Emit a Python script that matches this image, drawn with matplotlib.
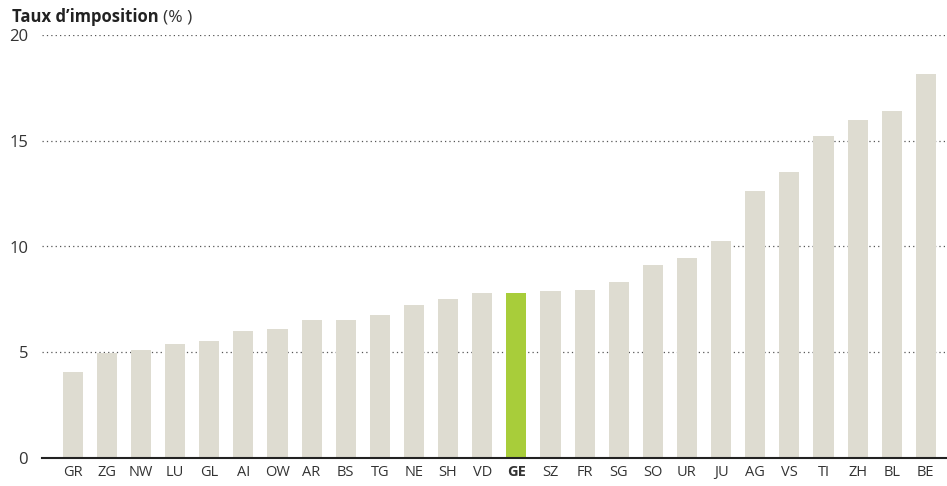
import matplotlib.pyplot as plt

cantons = ['GR', 'ZG', 'NW', 'LU', 'GL', 'AI', 'OW', 'AR', 'BS', 'TG', 'NE', 'SH', 'VD',
           'GE', 'SZ', 'FR', 'SG', 'SO', 'UR', 'JU', 'AG', 'VS', 'TI', 'ZH', 'BL', 'BE']
taux = [4.07, 4.98, 5.1, 5.4, 5.54, 6.0, 6.1, 6.54, 6.54, 6.77, 7.24, 7.52, 7.8,
        7.8, 7.9, 7.95, 8.33, 9.13, 9.46, 10.25, 12.63, 13.52, 15.22, 15.98, 16.4, 18.15]
yticks = [0, 5, 10, 15, 20]
highlight = 'GE'

plt.rcParams['font.family'] = ['Open Sans', 'DejaVu Sans']
txt = '#333333'

fig = plt.figure(figsize=(9.47, 4.86), dpi=100)
ax = fig.add_axes([42 / 947, 1 - 458 / 486, 1 - 42 / 947, (458 - 35) / 486])

colors = ['#a8cd3a' if c == highlight else '#dedcd1' for c in cantons]
ax.bar(range(len(cantons)), taux, width=0.59, color=colors, zorder=2)

ax.set_xlim(-0.9, len(cantons) - 0.38)
ax.set_ylim(0, 20)
ax.set_yticks(yticks)
ax.set_yticklabels([str(t) for t in yticks], fontsize=12, color=txt)
ax.set_xticks(range(len(cantons)))
ax.set_xticklabels(cantons, fontsize=10.5, color=txt)
for lab in ax.get_xticklabels():
    if lab.get_text() == highlight:
        lab.set_fontweight('bold')
ax.tick_params(axis='both', length=0)
ax.tick_params(axis='y', pad=10)
ax.tick_params(axis='x', pad=5)

for t in yticks[1:]:
    ax.axhline(t, color='#555555', lw=0.9, ls=(0, (1, 2.5)), zorder=1)

for s in ['top', 'right', 'left']:
    ax.spines[s].set_visible(False)
ax.spines['bottom'].set_color('#222222')
ax.spines['bottom'].set_linewidth(1.5)
ax.spines['bottom'].set_zorder(3)

t1 = fig.text(12 / 947, 1 - 17 / 486, "Taux d\u2019imposition", fontsize=12,
              fontweight='bold', color='#222222', va='center')
fig.canvas.draw()
bb = t1.get_window_extent()
fig.text((bb.x1 + 4) / 947, 1 - 17 / 486, "(% )", fontsize=12.5, color=txt, va='center')

fig.savefig('out.png', dpi=100)
